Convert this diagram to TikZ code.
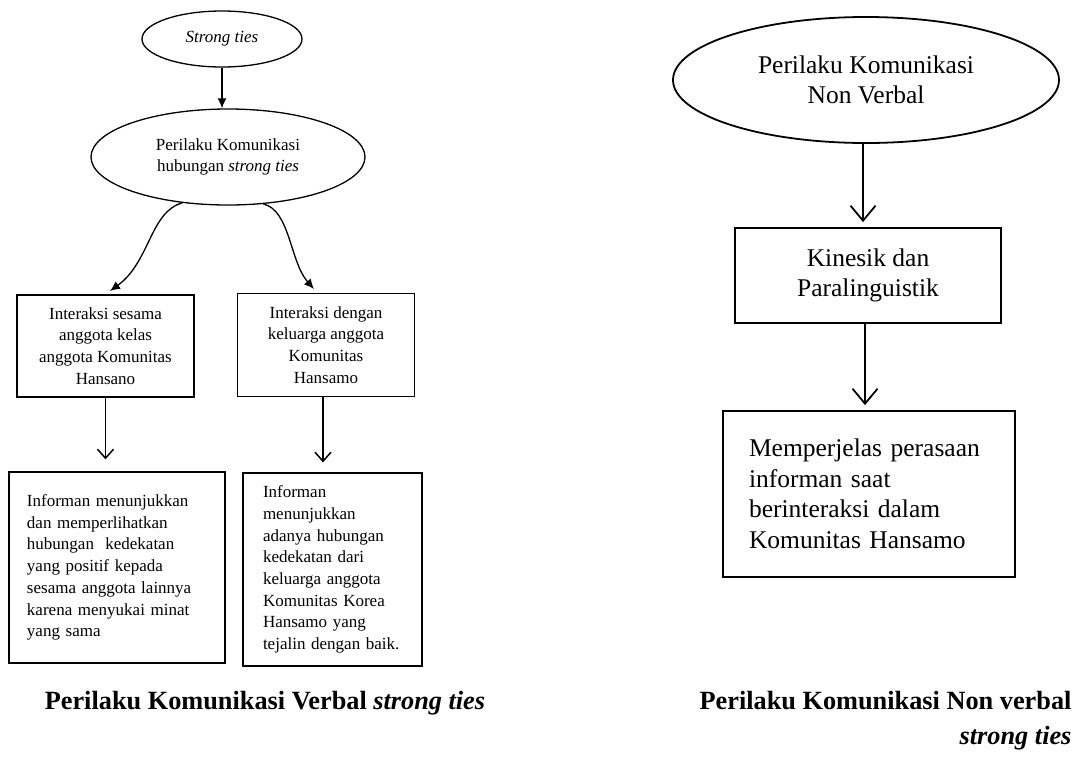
\documentclass[tikz,border=0pt]{standalone}
\usepackage{fontspec}
\setmainfont{Liberation Serif}
\usetikzlibrary{shapes.geometric,arrows.meta}
\begin{document}
\begin{tikzpicture}[x=1pt,y=-1pt,
  smalltxt/.style={font=\fontsize{17}{21.7}\selectfont},
  bigtxt/.style={font=\fontsize{25.5}{30.5}\selectfont},
  lbox/.style={draw, line width=1.3pt, inner sep=0pt, smalltxt},
  rbox/.style={draw, line width=1.8pt, inner sep=0pt, bigtxt},
  lell/.style={draw, ellipse, line width=1.3pt, inner sep=0pt, smalltxt, align=center},
  rell/.style={draw, ellipse, line width=1.8pt, inner sep=0pt, bigtxt, align=center},
  solidarrow/.style={line width=1.3pt, -{Latex[length=10pt,width=9pt]}},
  vlarrow/.style={line width=1.5pt, -{Straight Barb[length=9pt,width=16pt,line width=1.5pt]}},
  vrarrow/.style={line width=1.8pt, -{Straight Barb[length=15pt,width=25pt,line width=1.8pt]}},
  caption/.style={font=\fontsize{26.3}{35}\selectfont\bfseries}
]
\useasboundingbox (0,0) rectangle (1076,756);

% ---------- left diagram ----------
\node[lell, minimum width=160pt, minimum height=56pt] (e1) at (222,39) {\textit{Strong ties}};
\node[lell, minimum width=274pt, minimum height=96pt] (e2) at (228,157)
  {Perilaku Komunikasi\\ hubungan \textit{strong ties}};

\node[lbox, align=center, minimum width=177pt, minimum height=102pt] (b1) at (105.5,346)
  {Interaksi sesama\\ anggota kelas\\ anggota Komunitas\\ Hansano};
\node[lbox, align=center, minimum width=177pt, minimum height=103pt] (b2) at (326,345)
  {Interaksi dengan\\ keluarga anggota\\ Komunitas\\ Hansamo};

\node[lbox, align=left, text width=180pt, inner xsep=18pt, minimum height=191pt] (b3) at (117,567.5)
  {Informan menunjukkan\\ dan memperlihatkan\\ hubungan\ \ kedekatan\\ yang positif kepada\\ sesama anggota lainnya\\ karena menyukai minat\\ yang sama};
\node[lbox, align=left, text width=139pt, inner xsep=20pt, minimum height=193pt] (b4) at (332.5,569.5)
  {Informan\\ menunjukkan\\ adanya hubungan\\ kedekatan dari\\ keluarga anggota\\ Komunitas Korea\\ Hansamo yang\\ tejalin dengan baik.};

\coordinate (t1) at (110,291);
\coordinate (t2) at (314,289);

\draw[solidarrow] (e1.south) -- (e1.south |- e2.north);
\draw[solidarrow] (e2.225) .. controls (150,212) and (150,262) .. (t1);
\draw[solidarrow] (e2.307) .. controls (290,210) and (290,262) .. (t2);
\draw[vlarrow, shorten >=12pt] (b1.south) -- (b1.south |- b3.north);
\draw[vlarrow, shorten >=10pt] ([xshift=-3pt]b2.south) -- ([xshift=-3pt]b2.south |- b4.north);

\node[caption] (c1) at (265,703) {Perilaku Komunikasi Verbal \textit{strong ties}};

% ---------- right diagram ----------
\node[rell, minimum width=386pt, minimum height=126pt] (e3) at (866,80)
  {Perilaku Komunikasi\\ Non Verbal};
\node[rbox, align=center, minimum width=266pt, minimum height=95pt] (k) at (868,275.5)
  {Kinesik dan\\ Paralinguistik};
\node[rbox, align=left, text width=240pt, inner xsep=26pt, minimum height=166pt] (m) at (869,494)
  {Memperjelas perasaan\\ informan saat\\ berinteraksi dalam\\ Komunitas Hansamo};

\draw[vrarrow, shorten >=5pt] ([xshift=-3pt]e3.south) -- ([xshift=-3pt]e3.south |- k.north);
\draw[vrarrow, shorten >=5pt] ([xshift=-3pt]k.south) -- ([xshift=-3pt]k.south |- m.north);

\node[caption, align=right, anchor=east] (c2) at (1075,721)
  {Perilaku Komunikasi Non verbal\\ \textit{strong ties}};
\end{tikzpicture}
\end{document}
